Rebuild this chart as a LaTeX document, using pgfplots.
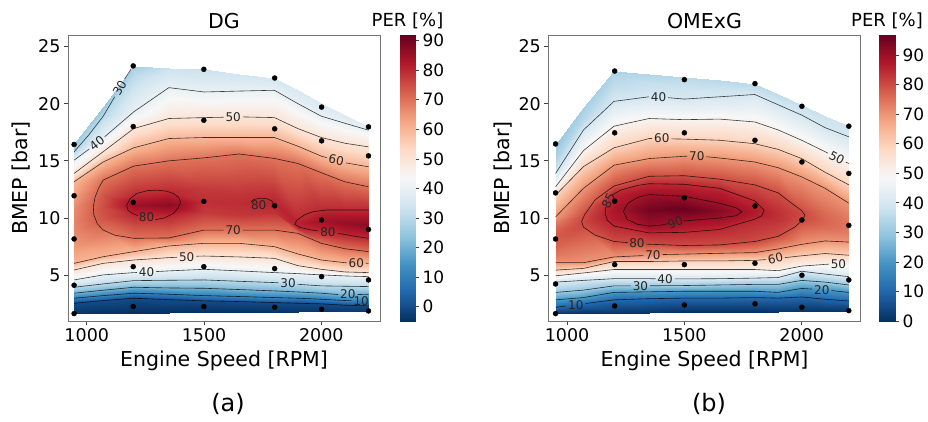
\documentclass[border=0pt]{standalone}
\usepackage{fontspec}
\setmainfont{DejaVu Sans}
\usepackage{pgfplots}
\pgfplotsset{compat=1.18}
\pgfplotsset{
  colormap={rdbur}{rgb255=(5,48,97) rgb255=(33,102,172) rgb255=(67,147,195) rgb255=(146,197,222) rgb255=(209,229,240) rgb255=(247,247,247) rgb255=(253,219,199) rgb255=(244,165,130) rgb255=(214,96,77) rgb255=(178,24,43) rgb255=(103,0,31)},
  panel/.style={
    scale only axis, width=312pt, height=286pt,
    xmin=920, xmax=2250, ymin=1, ymax=26,
    xtick={1000,1500,2000}, xticklabels={1000,1500,2000},
    ytick={5,10,15,20,25}, yticklabels={5,10,15,20,25},
    tick pos=left, tick align=outside, major tick length=4pt,
    tick style={black!75, line width=0.7pt},
    axis line style={black!55, line width=0.8pt},
    ticklabel style={font=\fontsize{17.5}{20}\selectfont},
    colormap name=rdbur,
  },
  cbar/.style={
    scale only axis, height=286pt,
    xmin=0, xmax=1, xtick=\empty,
    ytick={0,10,...,90}, yticklabels={0,10,20,30,40,50,60,70,80,90},
    tick pos=right, yticklabel pos=right, tick align=outside, major tick length=4pt,
    tick style={black!75, line width=0.7pt},
    axis line style={draw=none},
    ticklabel style={font=\fontsize{17}{20}\selectfont},
    colormap name=rdbur,
  },
  cl/.style={black, opacity=0.75, line width=0.6pt, no marks},
  dots/.style={only marks, mark=*, mark size=2.5pt, black},
}
\tikzset{clab/.style={font=\fontsize{12}{14}\selectfont, text=black!85, inner sep=0pt}}
\begin{document}
\begin{tikzpicture}
\useasboundingbox (0pt,0pt) rectangle (928pt,-421pt);
% ================= panel (a) =================
\begin{axis}[panel, at={(68pt,-321pt)}, anchor=south west, point meta min=-4.85, point meta max=91.9]
\addplot[surf, shader=interp, mesh/rows=11, mesh/cols=18, point meta=\thisrow{z}] table {
x y z
946 1.65 -4
946 2.55 0
946 2.99 10
946 3.43 20
946 3.95 30
946 4.59 40
946 5.46 50
946 6.04 60
946 7.3 64
946 8.5 66.5
946 9.6 67.5
946 10.8 66.5
946 12.0 63.5
946 13.17 60
946 13.9 50
946 15.06 40
946 15.79 30
946 16.43 26
1070 1.67 -4.5
1070 2.79 0
1070 3.22 10
1070 3.69 20
1070 4.24 30
1070 5.03 40
1070 6.04 50
1070 6.62 60
1070 8.95 70
1070 10.0 74
1070 11.0 75
1070 12.0 74
1070 13.32 70
1070 14.9 60
1070 15.8 50
1070 17.0 40
1070 19.0 30
1070 19.74 25
1200 1.70 -4.8
1200 2.99 0
1200 3.43 10
1200 3.95 20
1200 4.53 30
1200 5.23 40
1200 6.33 50
1200 7.06 60
1200 8.23 70
1200 10.3 80
1200 11.1 85
1200 11.9 80
1200 14.54 70
1200 16.14 60
1200 17.82 50
1200 19.28 40
1200 22.7 30
1200 23.3 27
1350 1.72 -4.8
1350 2.87 0
1350 3.34 10
1350 3.89 20
1350 4.56 30
1350 5.38 40
1350 6.54 50
1350 7.56 60
1350 8.26 70
1350 10.2 80
1350 11.1 87
1350 12.3 80
1350 15.0 70
1350 16.95 60
1350 18.70 50
1350 21.4 40
1350 22.3 36
1350 23.15 33
1500 1.75 -4.8
1500 2.76 0
1500 3.22 10
1500 3.86 20
1500 4.59 30
1500 5.52 40
1500 6.68 50
1500 7.79 60
1500 8.95 70
1500 10.4 77.5
1500 11.5 79
1500 12.6 77.5
1500 15.26 70
1500 17.04 60
1500 18.78 50
1500 21.02 40
1500 22.0 36.5
1500 23.0 33
1650 1.78 -4.8
1650 2.70 0
1650 3.14 10
1650 3.75 20
1650 4.47 30
1650 5.38 40
1650 6.60 50
1650 7.79 60
1650 8.95 70
1650 10.3 78
1650 11.3 79.5
1650 12.3 78
1650 15.6 70
1650 17.04 60
1650 18.84 50
1650 21.1 40
1650 21.9 36.5
1650 22.6 34
1800 1.81 -4.5
1800 2.61 0
1800 3.05 10
1800 3.63 20
1800 4.36 30
1800 5.23 40
1800 6.48 50
1800 7.50 60
1800 8.95 70
1800 10.5 79
1800 11.3 80.5
1800 12.1 79
1800 15.21 70
1800 17.04 60
1800 18.78 50
1800 21.17 40
1800 21.7 37
1800 22.2 35
1900 1.83 -4
1900 2.55 0
1900 2.99 10
1900 3.54 20
1900 4.21 30
1900 5.14 40
1900 5.84 50
1900 6.86 60
1900 8.66 70
1900 9.1 80
1900 9.45 81
1900 9.8 80
1900 14.77 70
1900 16.28 60
1900 17.82 50
1900 20.0 40
1900 20.6 37.5
1900 21.15 36
2000 1.84 -3.5
2000 2.50 0
2000 2.90 10
2000 3.43 20
2000 4.07 30
2000 5.03 40
2000 5.52 50
2000 6.33 60
2000 7.79 70
2000 8.85 80
2000 9.7 84
2000 10.68 80
2000 13.96 70
2000 15.41 60
2000 17.04 50
2000 18.90 40
2000 19.5 37.5
2000 20.1 36
2100 1.86 -3
2100 2.38 0
2100 2.79 10
2100 3.25 20
2100 4.04 30
2100 4.94 40
2100 5.29 50
2100 6.10 60
2100 7.32 70
2100 8.55 80
2100 9.6 86
2100 10.7 80
2100 13.17 70
2100 14.83 60
2100 16.54 50
2100 18.29 40
2100 18.7 38
2100 19.05 37
2201 1.88 -3
2201 2.32 0
2201 2.79 10
2201 3.34 20
2201 4.01 30
2201 4.88 40
2201 5.23 50
2201 6.04 60
2201 7.06 70
2201 8.23 80
2201 9.4 87
2201 10.70 80
2201 12.73 70
2201 14.48 60
2201 16.22 50
2201 17.68 40
2201 17.85 38.5
2201 17.97 37.5
};
% contour lines (a)
\addplot[cl] coordinates {(946,2.55)(1070,2.79)(1200,2.99)(1350,2.87)(1500,2.76)(1650,2.70)(1800,2.61)(1900,2.55)(2000,2.50)(2100,2.38)(2201,2.32)};
\addplot[cl] coordinates {(946,2.99)(1070,3.22)(1200,3.43)(1350,3.34)(1500,3.22)(1650,3.14)(1800,3.05)(1900,2.99)(2000,2.90)(2100,2.79)(2128,2.78)};
\addplot[cl] coordinates {(946,3.43)(1070,3.69)(1200,3.95)(1350,3.89)(1500,3.86)(1650,3.75)(1800,3.63)(1900,3.54)(2000,3.43)(2072,3.31)};
\addplot[cl] coordinates {(2154,3.31)(2201,3.34)};
\addplot[cl] coordinates {(946,3.95)(1070,4.24)(1200,4.53)(1350,4.56)(1500,4.59)(1650,4.47)(1800,4.36)(1817,4.34)};
\addplot[cl] coordinates {(1899,4.21)(2000,4.07)(2100,4.04)(2201,4.01)};
\addplot[cl] coordinates {(946,4.59)(1070,5.03)(1200,5.23)(1214,5.24)};
\addplot[cl] coordinates {(1296,5.32)(1350,5.38)(1500,5.52)(1650,5.38)(1800,5.23)(1900,5.14)(2000,5.03)(2100,4.94)(2201,4.88)};
\addplot[cl] coordinates {(946,5.46)(1070,6.04)(1200,6.33)(1350,6.54)(1385,6.57)};
\addplot[cl] coordinates {(1467,6.66)(1500,6.68)(1650,6.60)(1800,6.48)(1900,5.84)(2000,5.52)(2100,5.29)(2201,5.23)};
\addplot[cl] coordinates {(946,6.04)(1070,6.62)(1200,7.06)(1350,7.56)(1500,7.79)(1650,7.79)(1800,7.50)(1900,6.86)(2000,6.33)(2100,6.10)(2108,6.09)};
\addplot[cl] coordinates {(2190,6.05)(2201,6.04)};
\addplot[cl] coordinates {(2201,7.06)(2100,7.32)(2000,7.79)(1900,8.66)(1800,8.95)(1665,8.95)};
\addplot[cl] coordinates {(1583,8.95)(1500,8.95)(1350,8.26)(1200,8.23)(1120,8.5)(1070,8.95)(1045,9.5)(1030,10.3)(1028,11.0)(1035,11.8)(1050,12.6)(1070,13.32)(1200,14.54)(1350,15.0)(1500,15.26)(1650,15.6)(1800,15.21)(1900,14.77)(2000,13.96)(2100,13.17)(2201,12.73)};
\addplot[cl] coordinates {(1292,9.86)(1330,10.0)(1369,10.4)(1390,10.9)(1400,11.4)(1392,11.8)(1369,12.15)(1340,12.35)(1298,12.44)(1260,12.4)(1213,12.15)(1185,11.7)(1170,11.1)(1175,10.7)(1195,10.4)(1218,10.22)};
\addplot[cl] coordinates {(1700,11.4)(1712,11.62)(1740,11.74)(1770,11.68)(1790,11.48)(1796,11.2)(1788,10.98)};
\addplot[cl] coordinates {(2201,8.23)(2150,8.38)(2106,8.55)(2072,8.65)};
\addplot[cl] coordinates {(1985,8.88)(1950,8.98)(1908,9.2)(1887,9.45)(1895,9.8)(1930,10.3)(1964,10.55)(2021,10.7)(2100,10.7)(2201,10.7)};
\addplot[cl] coordinates {(946,13.17)(1070,14.9)(1200,16.14)(1350,16.95)(1500,17.04)(1650,17.04)(1800,17.04)(1900,16.28)(2000,15.41)(2023,15.28)};
\addplot[cl] coordinates {(2105,14.82)(2201,14.48)};
\addplot[cl] coordinates {(946,13.9)(1070,15.8)(1200,17.82)(1350,18.70)(1500,18.78)(1583,18.81)};
\addplot[cl] coordinates {(1665,18.84)(1800,18.78)(1900,17.82)(2000,17.04)(2100,16.54)(2201,16.22)};
\addplot[cl] coordinates {(946,15.06)(1010,16.03)};
\addplot[cl] coordinates {(1076,17.1)(1200,19.28)(1350,21.4)(1500,21.02)(1650,21.1)(1800,21.17)(1900,20.0)(2000,18.90)(2100,18.29)(2201,17.68)};
\addplot[cl] coordinates {(946,15.79)(1010,17.3)(1070,18.9)(1119,20.6)};
\addplot[cl] coordinates {(1161,22.15)(1190,23.05)};
% labels (a)
\node[clab] at (axis cs:2170,2.74) {10};
\node[clab] at (axis cs:2113,3.31) {20};
\node[clab] at (axis cs:1858,4.28) {30};
\node[clab] at (axis cs:1255,5.28) {40};
\node[clab] at (axis cs:1426,6.61) {50};
\node[clab] at (axis cs:2149,6.07) {60};
\node[clab] at (axis cs:1624,8.95) {70};
\node[clab] at (axis cs:1255,10.06) {80};
\node[clab] at (axis cs:1733,11.15) {80};
\node[clab] at (axis cs:2028,8.77) {80};
\node[clab, rotate=-12] at (axis cs:2064,15.05) {60};
\node[clab] at (axis cs:1624,18.83) {50};
\node[clab, rotate=38] at (axis cs:1043,16.55) {40};
\node[clab, rotate=60] at (axis cs:1140,21.38) {30};
\addplot[dots] coordinates {(946,16.43)(946,11.95)(946,8.17)(946,4.13)(946,1.65)
(1198,23.3)(1198,18.0)(1198,11.37)(1198,5.75)(1198,2.26)
(1499,23.0)(1499,18.55)(1499,11.46)(1499,5.75)(1499,2.26)
(1801,22.24)(1801,17.8)(1801,11.07)(1801,5.58)(1801,2.2)
(2001,19.7)(2001,16.75)(2001,9.83)(2001,4.88)(2001,2.03)
(2201,17.97)(2201,15.44)(2201,9.0)(2201,4.59)(2201,1.88)};
\end{axis}
\begin{axis}[cbar, at={(400pt,-321pt)}, anchor=south west, width=15pt, ymin=-4.85, ymax=91.9, point meta min=-4.85, point meta max=91.9]
\addplot[surf, shader=interp, mesh/rows=12, mesh/cols=2, point meta=\thisrow{c}] table {
x y c
0 -4.85 -4.85
1 -4.85 -4.85
0 0 0
1 0 0
0 10 10
1 10 10
0 20 20
1 20 20
0 30 30
1 30 30
0 40 40
1 40 40
0 50 50
1 50 50
0 60 60
1 60 60
0 70 70
1 70 70
0 80 80
1 80 80
0 90 90
1 90 90
0 91.9 91.9
1 91.9 91.9
};
\end{axis}
% ================= panel (b) =================
\begin{axis}[panel, at={(548.3pt,-321pt)}, anchor=south west, point meta min=0, point meta max=96.8]
\addplot[surf, shader=interp, mesh/rows=11, mesh/cols=21, point meta=\thisrow{z}] table {
x y z
951 1.65 0.5
951 2.2 10
951 2.85 20
951 3.5 30
951 4.4 40
951 4.95 50
951 5.45 60
951 6.1 70
951 6.8 74
951 7.3 76
951 7.8 77.5
951 8.3 78
951 8.8 77.5
951 9.2 76
951 9.6 74
951 10.1 70
951 12.0 60
951 12.73 50
951 13.9 40
951 15.2 34
951 16.48 30
1070 1.67 0.5
1070 2.5 10
1070 3.05 20
1070 3.7 30
1070 4.55 40
1070 5.2 50
1070 5.6 60
1070 6.1 70
1070 9.2 80
1070 9.4 80.3
1070 9.55 80.5
1070 9.65 80.6
1070 9.75 80.5
1070 9.9 80.3
1070 10.2 80
1070 12.6 70
1070 14.5 60
1070 15.9 50
1070 17.7 40
1070 18.6 35
1070 19.6 32
1200 1.70 1
1200 2.85 10
1200 3.5 20
1200 4.07 30
1200 4.7 40
1200 5.5 50
1200 6.2 60
1200 6.6 70
1200 7.95 80
1200 9.3 85
1200 10.0 87.2
1200 10.6 87.8
1200 11.2 87.2
1200 12.2 85
1200 12.8 80
1200 14.62 70
1200 16.14 60
1200 18.03 50
1200 20.2 40
1200 21.6 36
1200 22.85 33
1350 1.72 0.5
1350 2.95 10
1350 3.55 20
1350 4.07 30
1350 4.7 40
1350 5.5 50
1350 6.2 60
1350 6.75 70
1350 7.7 80
1350 8.7 85
1350 9.3 90
1350 10.7 95
1350 12.05 90
1350 13.0 85
1350 13.65 80
1350 15.2 70
1350 16.95 60
1350 18.7 50
1350 20.6 40
1350 21.8 37
1350 22.58 34
1500 1.75 0
1500 3.0 10
1500 3.6 20
1500 4.1 30
1500 4.68 40
1500 5.5 50
1500 6.25 60
1500 6.85 70
1500 7.6 80
1500 8.75 85
1500 9.75 90
1500 10.8 96.5
1500 11.9 90
1500 12.95 85
1500 13.7 80
1500 15.4 70
1500 16.9 60
1500 18.6 50
1500 20.4 40
1500 21.4 38
1500 22.3 35
1650 1.78 0
1650 3.0 10
1650 3.6 20
1650 4.15 30
1650 4.7 40
1650 5.5 50
1650 6.25 60
1650 6.92 70
1650 7.65 80
1650 9.0 85
1650 10.0 90
1650 10.7 92.5
1650 11.3 90
1650 12.6 85
1650 13.4 80
1650 15.25 70
1650 16.8 60
1650 18.65 50
1650 20.6 40
1650 21.3 38
1650 22.03 35
1800 1.81 0
1800 3.05 10
1800 3.6 20
1800 4.2 30
1800 4.75 40
1800 5.5 50
1800 6.3 60
1800 6.98 70
1800 7.95 80
1800 9.9 85
1800 10.3 86.5
1800 10.6 87
1800 10.9 86.5
1800 11.5 85
1800 12.9 80
1800 14.9 70
1800 16.5 60
1800 18.4 50
1800 20.8 40
1800 21.2 37.5
1800 21.75 35
1900 1.83 0.5
1900 3.0 10
1900 3.5 20
1900 4.2 30
1900 4.8 40
1900 5.4 50
1900 6.45 60
1900 7.3 70
1900 8.4 80
1900 9.8 83.5
1900 10.1 83.8
1900 10.3 84
1900 10.5 83.8
1900 10.8 83.5
1900 12.2 80
1900 14.4 70
1900 16.0 60
1900 17.7 50
1900 19.9 40
1900 20.4 38
1900 20.82 36
2000 1.84 1
2000 3.1 10
2000 3.85 20
2000 4.55 30
2000 5.35 40
2000 5.8 50
2000 6.7 60
2000 7.7 70
2000 9.85 80
2000 10.0 80.3
2000 10.15 80.4
2000 10.25 80.5
2000 10.35 80.4
2000 10.5 80.3
2000 10.65 80
2000 13.6 70
2000 15.2 60
2000 16.8 50
2000 19.0 40
2000 19.5 38.5
2000 19.89 37
2100 1.86 1
2100 2.9 10
2100 3.72 20
2100 4.4 30
2100 5.1 40
2100 5.95 50
2100 6.9 60
2100 8.0 70
2100 9.0 75
2100 9.3 76
2100 9.5 76.5
2100 9.8 76.8
2100 10.1 76.5
2100 10.4 76
2100 10.8 75
2100 12.6 70
2100 14.0 60
2100 15.8 50
2100 17.9 40
2100 18.4 39
2100 18.96 38
2201 1.91 1
2201 2.75 10
2201 3.5 20
2201 4.15 30
2201 4.88 40
2201 6.0 50
2201 6.75 60
2201 7.9 70
2201 8.6 73
2201 8.9 73.8
2201 9.1 74.2
2201 9.3 74.5
2201 9.6 74.2
2201 9.9 73.8
2201 10.3 73
2201 11.3 70
2201 12.9 60
2201 14.77 50
2201 17.1 40
2201 17.6 39
2201 18.03 38
};
% contour lines (b)
\addplot[cl] coordinates {(951,2.2)(995,2.31)};
\addplot[cl] coordinates {(1079,2.53)(1200,2.85)(1350,2.95)(1500,3.0)(1650,3.0)(1800,3.05)(1900,3.0)(2000,3.1)(2100,2.9)(2201,2.75)};
\addplot[cl] coordinates {(951,2.85)(1070,3.05)(1200,3.5)(1350,3.55)(1500,3.6)(1650,3.6)(1800,3.6)(1900,3.5)(2000,3.85)(2045,3.79)};
\addplot[cl] coordinates {(2127,3.66)(2201,3.5)};
\addplot[cl] coordinates {(951,3.5)(1070,3.7)(1200,4.07)(1272,4.07)};
\addplot[cl] coordinates {(1354,4.08)(1500,4.1)(1650,4.15)(1800,4.2)(1900,4.2)(2000,4.55)(2100,4.4)(2201,4.15)};
\addplot[cl] coordinates {(951,4.4)(1070,4.55)(1200,4.7)(1350,4.7)(1377,4.69)};
\addplot[cl] coordinates {(1459,4.68)(1500,4.68)(1650,4.7)(1800,4.75)(1900,4.8)(2000,5.35)(2100,5.1)(2201,4.88)};
\addplot[cl] coordinates {(951,4.95)(1070,5.2)(1200,5.5)(1350,5.5)(1500,5.5)(1650,5.5)(1800,5.5)(1900,5.4)(2000,5.8)(2100,5.95)(2116,5.97)};
\addplot[cl] coordinates {(951,5.45)(1070,5.6)(1200,6.2)(1350,6.2)(1500,6.25)(1650,6.25)(1800,6.3)(1848,6.37)};
\addplot[cl] coordinates {(1928,6.54)(2000,6.7)(2100,6.9)(2201,6.75)};
\addplot[cl] coordinates {(951,6.1)(1070,6.1)(1200,6.6)(1325,6.72)};
\addplot[cl] coordinates {(1407,6.81)(1500,6.85)(1650,6.92)(1800,6.98)(1900,7.3)(2000,7.7)(2100,8.0)(2201,7.9)};
\addplot[cl] coordinates {(1337,7.72)(1500,7.6)(1650,7.65)(1800,7.95)(1900,8.4)(1970,9.2)(2005,9.85)(2014,10.26)(2000,10.65)(1950,11.4)(1900,12.2)(1800,12.9)(1650,13.4)(1500,13.7)(1350,13.65)(1200,12.8)(1120,11.6)(1075,10.3)(1062,9.7)(1070,9.2)(1120,8.5)(1200,7.95)(1259,7.85)};
\addplot[cl] coordinates {(1190,12.0)(1230,12.45)(1300,12.85)(1350,13.0)(1500,12.95)(1650,12.6)(1800,11.5)(1840,10.7)(1830,10.2)(1800,9.9)(1650,9.0)(1500,8.75)(1350,8.7)(1200,9.3)(1172,9.8)(1162,10.4)(1165,10.95)};
\addplot[cl] coordinates {(1495,9.75)(1560,9.85)(1650,10.0)(1720,10.2)(1745,10.55)(1720,10.9)(1650,11.3)(1500,11.9)(1350,12.05)(1300,11.8)(1260,11.3)(1240,10.6)(1255,9.9)(1300,9.45)(1350,9.3)(1400,9.38)(1428,9.5)};
\addplot[cl] coordinates {(951,10.1)(1070,12.6)(1200,14.62)(1350,15.2)(1500,15.4)(1512,15.4)};
\addplot[cl] coordinates {(1594,15.36)(1650,15.25)(1800,14.9)(1900,14.4)(2000,13.6)(2100,12.6)(2201,11.3)};
\addplot[cl] coordinates {(951,12.0)(1070,14.5)(1200,16.14)(1350,16.95)(1363,16.95)};
\addplot[cl] coordinates {(1445,16.92)(1500,16.9)(1650,16.8)(1800,16.5)(1900,16.0)(2000,15.2)(2100,14.0)(2201,12.9)};
\addplot[cl] coordinates {(951,12.73)(1070,15.9)(1200,18.03)(1350,18.7)(1500,18.6)(1650,18.65)(1800,18.4)(1900,17.7)(2000,16.8)(2100,15.8)(2112,15.67)};
\addplot[cl] coordinates {(2188,14.89)(2201,14.77)};
\addplot[cl] coordinates {(951,13.9)(1070,17.7)(1200,20.2)(1349,20.6)};
\addplot[cl] coordinates {(1431,20.52)(1500,20.4)(1650,20.6)(1800,20.8)(1900,19.9)(2000,19.0)(2100,17.9)(2201,17.1)};
% labels (b)
\node[clab] at (axis cs:1037,2.42) {10};
\node[clab] at (axis cs:2086,3.73) {20};
\node[clab] at (axis cs:1313,4.07) {30};
\node[clab] at (axis cs:1418,4.68) {40};
\node[clab] at (axis cs:2157,5.99) {50};
\node[clab, rotate=12] at (axis cs:1888,6.45) {60};
\node[clab] at (axis cs:1366,6.77) {70};
\node[clab] at (axis cs:1298,7.8) {80};
\node[clab, rotate=65] at (axis cs:1176,11.5) {85};
\node[clab, rotate=22] at (axis cs:1461,9.62) {90};
\node[clab] at (axis cs:1553,15.41) {70};
\node[clab] at (axis cs:1404,16.95) {60};
\node[clab, rotate=-27] at (axis cs:2150,15.28) {50};
\node[clab] at (axis cs:1390,20.6) {40};
\addplot[dots] coordinates {(951,16.48)(951,12.2)(951,8.17)(951,4.24)(951,1.65)
(1203,22.85)(1203,17.45)(1203,11.48)(1203,5.93)(1203,2.32)
(1500,22.1)(1500,17.45)(1500,11.77)(1500,5.93)(1500,2.4)
(1801,21.75)(1801,16.8)(1801,11.05)(1801,6.05)(1801,2.5)
(2001,19.77)(2001,14.9)(2001,9.83)(2001,5.0)(2001,2.2)
(2201,18.03)(2201,13.9)(2201,9.36)(2201,4.59)(2201,1.91)};
\end{axis}
\begin{axis}[cbar, at={(879pt,-321pt)}, anchor=south west, width=16pt, ymin=0, ymax=96.8, point meta min=0, point meta max=96.8]
\addplot[surf, shader=interp, mesh/rows=11, mesh/cols=2, point meta=\thisrow{c}] table {
x y c
0 0 0
1 0 0
0 10 10
1 10 10
0 20 20
1 20 20
0 30 30
1 30 30
0 40 40
1 40 40
0 50 50
1 50 50
0 60 60
1 60 60
0 70 70
1 70 70
0 80 80
1 80 80
0 90 90
1 90 90
0 96.8 96.8
1 96.8 96.8
};
\end{axis}
% ================= texts =================
\node[font=\fontsize{20.5}{24}\selectfont] at (224pt,-20.7pt) {DG};
\node[font=\fontsize{20.5}{24}\selectfont] at (704.5pt,-20.7pt) {OMExG};
\node[font=\fontsize{18}{21}\selectfont] at (407.5pt,-20.5pt) {PER [\%]};
\node[font=\fontsize{18}{21}\selectfont] at (887pt,-20.5pt) {PER [\%]};
\node[font=\fontsize{20.5}{24}\selectfont, rotate=90] at (21.5pt,-178pt) {BMEP [bar]};
\node[font=\fontsize{20.5}{24}\selectfont, rotate=90] at (503pt,-178pt) {BMEP [bar]};
\node[font=\fontsize{20.5}{24}\selectfont, anchor=base] at (224pt,-366.5pt) {Engine Speed [RPM]};
\node[font=\fontsize{20.5}{24}\selectfont, anchor=base] at (704.5pt,-366.5pt) {Engine Speed [RPM]};
\node[font=\fontsize{24}{28}\selectfont, anchor=base] at (228pt,-411pt) {(a)};
\node[font=\fontsize{24}{28}\selectfont, anchor=base] at (709pt,-411pt) {(b)};
\end{tikzpicture}
\end{document}
